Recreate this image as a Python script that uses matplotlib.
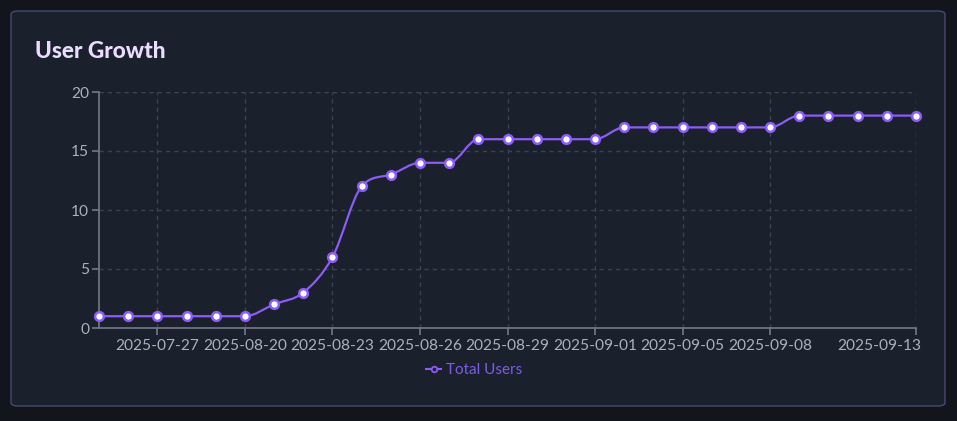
import numpy as np
import matplotlib.pyplot as plt
import matplotlib.transforms as mtrans
from matplotlib.patches import FancyBboxPatch, PathPatch
from matplotlib.path import Path
from matplotlib.lines import Line2D

# data
total_users = [1, 1, 1, 1, 1, 1, 2, 3, 6, 12, 13, 14, 14, 16, 16, 16, 16, 16,
               17, 17, 17, 17, 17, 17, 18, 18, 18, 18, 18]
tick_idx = [2, 5, 8, 11, 14, 17, 20, 23, 28]
tick_labels = ['2025-07-27', '2025-08-20', '2025-08-23', '2025-08-26', '2025-08-29',
               '2025-09-01', '2025-09-05', '2025-09-08', '2025-09-13']
y_ticks = [0, 5, 10, 15, 20]

outer_bg = '#12161c'
card_bg = '#1a202c'
card_edge = '#4a4870'
violet = '#8b5cf6'
tick_col = '#aab1bc'
axis_col = '#737a87'
grid_col = '#3b4352'

plt.rcParams['font.family'] = ['Lato', 'DejaVu Sans']

fig = plt.figure(figsize=(9.57, 4.21), dpi=100)
fig.patch.set_facecolor(outer_bg)
W, H = 957, 421

card = FancyBboxPatch((11 / W, 15 / H), 934 / W, 395 / H,
                      boxstyle='round,pad=0,rounding_size=0.008',
                      transform=fig.transFigure, facecolor=card_bg,
                      edgecolor=card_edge, linewidth=1.0, zorder=-5)
fig.patches.append(card)

fig.text(35 / W, 1 - 51 / H, 'User Growth', color='#ecdcff', fontsize=16.3,
         fontweight='black', va='center', ha='left')

ax = fig.add_axes([99 / W, 1 - 328 / H, 817 / W, 236 / H])
ax.set_facecolor('none')
x = np.arange(len(total_users))
ax.set_xlim(0, len(total_users) - 1)
ax.set_ylim(0, 20)

# grid
ax.set_yticks(y_ticks)
ax.set_xticks(tick_idx)
ax.grid(True, color=grid_col, linestyle=(0, (3, 3)), linewidth=1)
ax.set_axisbelow(True)
for s in ['top', 'right']:
    ax.spines[s].set_visible(False)
for s in ['left', 'bottom']:
    ax.spines[s].set_color(axis_col)
    ax.spines[s].set_linewidth(1.2)
ax.axhline(20, color=grid_col, linestyle=(0, (3, 3)), linewidth=1)
ax.axvline(len(total_users) - 1, color=grid_col, linestyle=(0, (3, 3)), linewidth=1)

ax.tick_params(axis='both', colors=axis_col, length=5, width=1.2,
               labelcolor=tick_col, labelsize=11.2)
ax.tick_params(axis='y', pad=2)
ax.tick_params(axis='x', pad=3)
ax.set_xticklabels(tick_labels)
labels = ax.get_xticklabels()
labels[-1].set_horizontalalignment('right')
labels[-1].set_transform(labels[-1].get_transform() +
                         mtrans.ScaledTranslation(5 / 100, 0, fig.dpi_scale_trans))

# monotone cubic line (chart.js "monotone" mode), done in pixel space
fig.canvas.draw()
pts = ax.transData.transform(np.column_stack([x, total_users]))
n = len(pts)
dx = np.diff(pts[:, 0])
dk = np.diff(pts[:, 1]) / dx
mk = np.zeros(n)
mk[0] = dk[0]
mk[-1] = dk[-1]
for i in range(1, n - 1):
    if np.sign(dk[i - 1]) != np.sign(dk[i]):
        mk[i] = 0
    else:
        mk[i] = (dk[i - 1] + dk[i]) / 2
for i in range(n - 1):
    if abs(dk[i]) < 1e-9:
        mk[i] = 0
        mk[i + 1] = 0
        continue
    a = mk[i] / dk[i]
    b = mk[i + 1] / dk[i]
    sq = a * a + b * b
    if sq > 9:
        tau = 3 / np.sqrt(sq)
        mk[i] = a * tau * dk[i]
        mk[i + 1] = b * tau * dk[i]
verts = [pts[0]]
codes = [Path.MOVETO]
for i in range(1, n):
    d = dx[i - 1] / 3
    c1 = pts[i - 1] + [d, d * mk[i - 1]]
    c2 = pts[i] - [d, d * mk[i]]
    verts += [c1, c2, pts[i]]
    codes += [Path.CURVE4] * 3
path = Path(ax.transData.inverted().transform(np.array(verts)), codes)
ax.add_patch(PathPatch(path, facecolor='none', edgecolor=violet, linewidth=1.6,
                       zorder=3, clip_on=False))
ax.plot(x, total_users, linestyle='none', marker='o', markersize=6.3,
        markerfacecolor='white', markeredgecolor=violet, markeredgewidth=1.8,
        zorder=4, clip_on=False)

handle = Line2D([0], [0], color=violet, linewidth=1.5, marker='o', markersize=4,
                markerfacecolor=card_bg, markeredgecolor=violet, markeredgewidth=1.3)
leg = fig.legend([handle], ['Total Users'], loc='center', frameon=False,
                 bbox_to_anchor=(474 / W, 1 - 370 / H), handlelength=1.0,
                 handletextpad=0.3, fontsize=11)
for txt in leg.get_texts():
    txt.set_color('#7c5ce6')

fig.savefig('out.png', dpi=100, facecolor=outer_bg)
